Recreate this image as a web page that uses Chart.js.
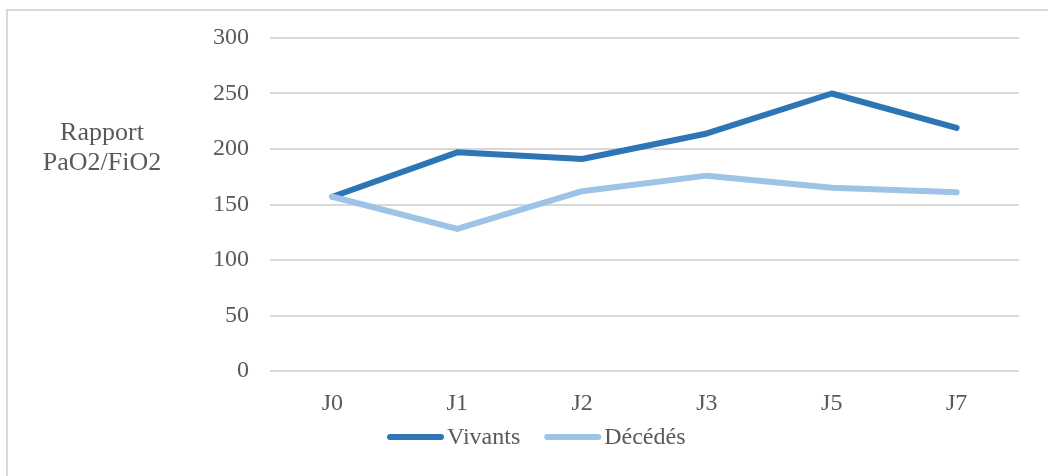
<!DOCTYPE html>
<html>
<head>
<meta charset="utf-8">
<script src="https://cdn.jsdelivr.net/npm/chart.js@4"></script>
<style>
  html, body { margin: 0; padding: 0; background: #fff; }
  #wrap { position: relative; width: 1048px; height: 476px; overflow: hidden; }
  #frame { position: absolute; left: 6px; top: 9px; width: 1100px; height: 600px;
           border-left: 2px solid #d9d9d9; border-top: 2px solid #d9d9d9; }
  #c { position: absolute; left: 0; top: 0; }
</style>
</head>
<body>
<div id="wrap">
  <div id="frame"></div>
  <canvas id="c" width="1048" height="476"></canvas>
</div>
<script>
const categories = ['J0', 'J1', 'J2', 'J3', 'J5', 'J7'];
const vivants = [157, 197, 191, 214, 250, 219];
const decedes = [157, 128, 162, 176, 165, 161];
const yTitleLines = ['Rapport', 'PaO2/FiO2'];

const FONT = "'Liberation Serif', 'Times New Roman', serif";
const GREY = '#595959';

const yTitlePlugin = {
  id: 'yTitle',
  afterDraw(chart) {
    const ctx = chart.ctx;
    ctx.save();
    ctx.font = '26px ' + FONT;
    ctx.fillStyle = GREY;
    ctx.textAlign = 'center';
    ctx.textBaseline = 'middle';
    ctx.fillText(yTitleLines[0], 102, 133);
    ctx.fillText(yTitleLines[1], 102, 163);
    ctx.restore();
  }
};

// Compact legend: short line sample followed closely by the label
const legendPlugin = {
  id: 'compactLegend',
  afterDraw(chart) {
    const ctx = chart.ctx;
    const sample = 57, gapText = 3, gapItem = 24, y = 437;
    ctx.save();
    ctx.font = '24px ' + FONT;
    ctx.textBaseline = 'middle';
    const items = chart.data.datasets.map(ds => ({ label: ds.label, color: ds.borderColor,
      w: sample + gapText + ctx.measureText(ds.label).width }));
    let x = 387;
    items.forEach(it => {
      ctx.strokeStyle = it.color;
      ctx.lineWidth = 6;
      ctx.lineCap = 'round';
      ctx.beginPath();
      ctx.moveTo(x + 3, y);
      ctx.lineTo(x + sample - 3, y);
      ctx.stroke();
      ctx.fillStyle = GREY;
      ctx.textAlign = 'left';
      ctx.fillText(it.label, x + sample + gapText, y + 1);
      x += it.w + gapItem;
    });
    ctx.restore();
  }
};

new Chart(document.getElementById('c'), {
  type: 'line',
  data: {
    labels: categories,
    datasets: [
      { label: 'Vivants', data: vivants, borderColor: '#2E75B6', backgroundColor: '#2E75B6',
        borderWidth: 6, pointRadius: 0, pointHoverRadius: 0, tension: 0, order: 1,
        borderCapStyle: 'round', borderJoinStyle: 'round' },
      { label: 'Décédés', data: decedes, borderColor: '#9DC3E6', backgroundColor: '#9DC3E6',
        borderWidth: 6, pointRadius: 0, pointHoverRadius: 0, tension: 0, order: 0,
        borderCapStyle: 'round', borderJoinStyle: 'round' }
    ]
  },
  options: {
    responsive: false,
    animation: false,
    layout: { padding: { left: 0, right: 29, top: 38, bottom: 59 } },
    plugins: {
      tooltip: { enabled: false },
      legend: { display: false }
    },
    scales: {
      x: {
        offset: true,
        grid: { display: false, drawTicks: false },
        border: { display: false },
        ticks: { font: { family: FONT, size: 24 }, color: GREY, padding: 18 },
        afterFit(s) { s.height = 46; }
      },
      y: {
        min: 0, max: 300,
        grid: { color: '#d9d9d9', lineWidth: 2, drawTicks: false },
        border: { display: false },
        ticks: { stepSize: 50, font: { family: FONT, size: 24 }, color: GREY, padding: 21 },
        afterFit(s) { s.width = 270; }
      }
    }
  },
  plugins: [yTitlePlugin, legendPlugin]
});
</script>
</body>
</html>
